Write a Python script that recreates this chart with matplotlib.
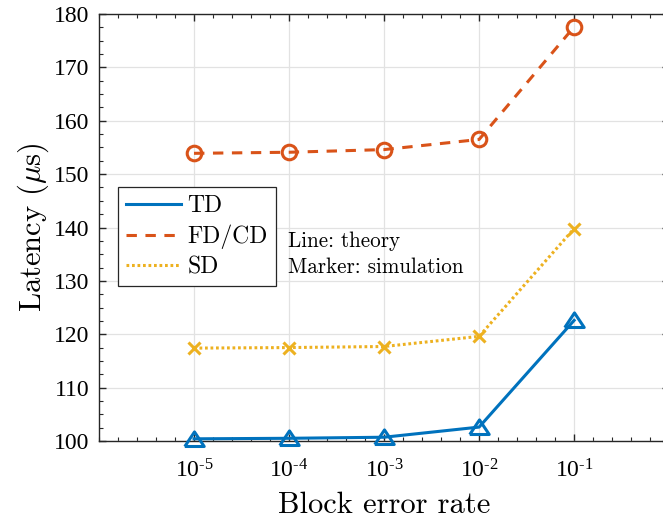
import matplotlib

matplotlib.use("Agg")
import matplotlib.pyplot as plt
import numpy as np
from matplotlib.ticker import FixedLocator, MultipleLocator

# block error rates on the x axis
bler = [1e-5, 1e-4, 1e-3, 1e-2, 1e-1]
xtick_labels = [r"$\mathregular{10^{‐5}}$", r"$\mathregular{10^{‐4}}$",
                r"$\mathregular{10^{‐3}}$", r"$\mathregular{10^{‐2}}$",
                r"$\mathregular{10^{‐1}}$"]

# latency in microseconds
td = [100.4, 100.5, 100.7, 102.6, 122.6]
fdcd = [153.9, 154.1, 154.6, 156.5, 177.6]
sd = [117.4, 117.5, 117.7, 119.6, 139.8]

BLUE = "#0072BD"
ORANGE = "#D95319"
YELLOW = "#EDB120"
AXC = "#262626"

plt.rcParams["font.family"] = "Liberation Serif"
plt.rcParams["mathtext.fontset"] = "cm"

# wide matlab-like triangle
tri = [(-1, -0.72), (1, -0.72), (0, 0.78), (-1, -0.72)]

fig = plt.figure(figsize=(6.63, 5.20), dpi=100)
ax = fig.add_axes([0.1493, 0.152, 0.86, 0.821])

x = np.log10(bler)
lw = 2.2
ax.plot(x, td, color=BLUE, lw=lw, ls="-", label="TD")
ax.plot(x, fdcd, color=ORANGE, lw=lw, ls=(0, (3.4, 2.8)), label="FD/CD")
ax.plot(x, sd, color=YELLOW, lw=lw, ls=(0, (0.9, 0.9)), label="SD")

ax.plot(x, td, ls="none", marker=tri, ms=14, mfc="none", mec=BLUE, mew=2.2,
        clip_on=False, zorder=4)
ax.plot(x, fdcd, ls="none", marker="o", ms=10.5, mfc="none", mec=ORANGE, mew=2.2,
        clip_on=False, zorder=4)
ax.plot(x, sd, ls="none", marker="x", ms=9, mec=YELLOW, mew=2.2,
        clip_on=False, zorder=4)

ax.set_xlim(-6, 0)
ax.set_ylim(100, 180)
ax.xaxis.set_major_locator(FixedLocator(x))
ax.set_xticklabels(xtick_labels)
ax.xaxis.set_minor_locator(MultipleLocator(0.2))
ax.yaxis.set_major_locator(MultipleLocator(10))
ax.yaxis.set_minor_locator(MultipleLocator(2.5))

ax.tick_params(which="both", direction="in", top=True, right=True,
               color=AXC, labelcolor="black", labelsize=17)
ax.tick_params(which="major", length=5, width=1.0, pad=7)
ax.tick_params(axis="x", which="major", pad=13)
ax.tick_params(which="minor", length=3, width=0.8)
for s in ax.spines.values():
    s.set_color(AXC)
    s.set_linewidth(1.0)

ax.grid(True, which="major", color="#e2e2e2", lw=0.9)
ax.set_axisbelow(True)

ax.set_xlabel("Block error rate", fontsize=22, family="cmr10", labelpad=7)
ax.set_ylabel(r"Latency ($\mu$s)", fontsize=22, family="cmr10", labelpad=2)

leg = ax.legend(loc="upper left", bbox_to_anchor=(0.0333, 0.595), borderaxespad=0,
                prop={"family": "cmr10", "size": 17}, handlelength=2.3,
                handletextpad=0.3, labelspacing=0.3, borderpad=0.35,
                fancybox=False, framealpha=1, edgecolor=AXC)
leg.get_frame().set_linewidth(0.9)

ax.text(0.332, 0.468, "Line: theory", transform=ax.transAxes, va="center",
        fontsize=15.2, family="cmr10")
ax.text(0.332, 0.407, "Marker: simulation", transform=ax.transAxes, va="center",
        fontsize=15.2, family="cmr10")

fig.savefig("out.png", dpi=100)
